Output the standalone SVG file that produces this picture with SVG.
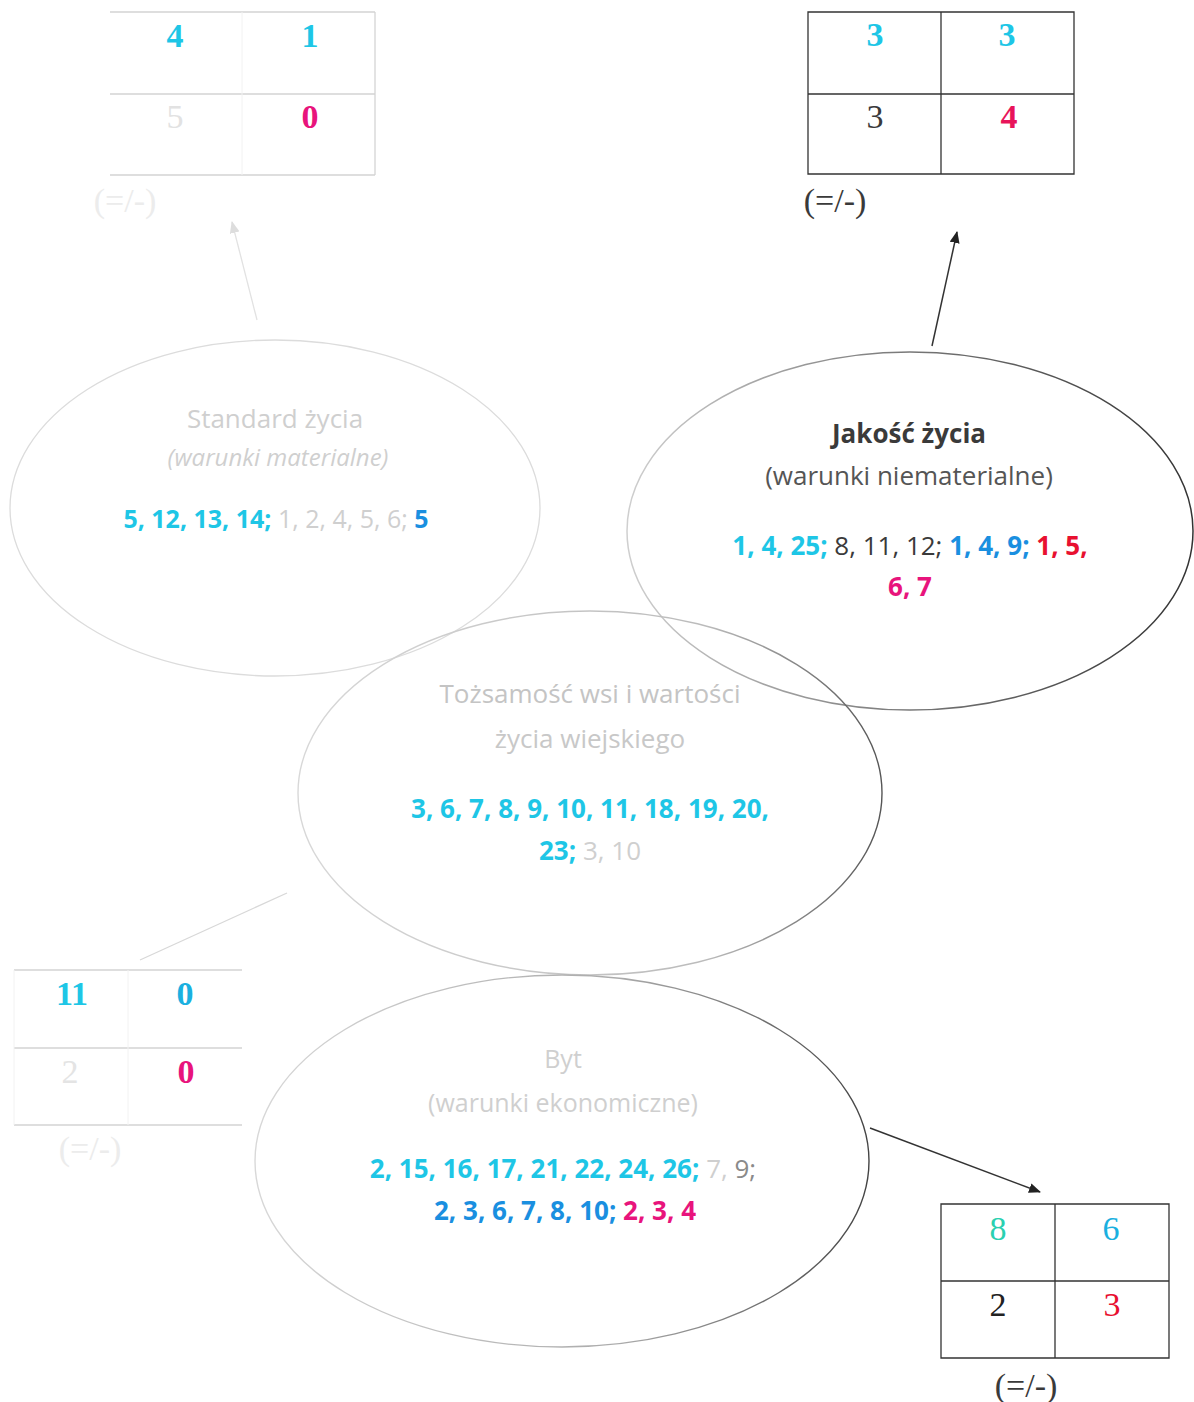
<svg xmlns="http://www.w3.org/2000/svg" width="1194" height="1402" viewBox="0 0 1194 1402">
<style>
.t{font-family:"Open Sans","Liberation Sans",sans-serif;text-anchor:middle}
.b{font-weight:bold}
.n{font-family:"Liberation Serif","Times New Roman",serif;font-size:34px;text-anchor:middle}
.nb{font-weight:bold}
.cy{fill:#1ec6e6}
.bl{fill:#1a8fe0}
.mg{fill:#e8147c}
.rd{fill:#e81030}
.dk{fill:#3a3a3a}
.fd{fill:#cfcfcf}
.gr{fill:#8a8a8a}
.tl{stroke:#333;stroke-width:1.3;fill:none}
.tf{stroke:#d4d4d4;stroke-width:1.3;fill:none}
</style>
<defs>
<linearGradient id="gJ" x1="0" y1="0" x2="1" y2="0"><stop offset="0" stop-color="#cfcfcf"/><stop offset="0.5" stop-color="#777"/><stop offset="1" stop-color="#333"/></linearGradient>
<linearGradient id="gT" x1="0" y1="0" x2="1" y2="0"><stop offset="0" stop-color="#d8d8d8"/><stop offset="0.7" stop-color="#bbb"/><stop offset="1" stop-color="#555"/></linearGradient>
<linearGradient id="gB" x1="0" y1="0" x2="1" y2="0"><stop offset="0" stop-color="#d8d8d8"/><stop offset="0.6" stop-color="#aaa"/><stop offset="1" stop-color="#444"/></linearGradient>
<marker id="ah" markerWidth="12" markerHeight="10" refX="11" refY="5" orient="auto" markerUnits="userSpaceOnUse"><path d="M0,0 L12,5 L0,10 z" fill="#222"/></marker>
<marker id="ahf" markerWidth="12" markerHeight="10" refX="11" refY="5" orient="auto" markerUnits="userSpaceOnUse"><path d="M0,0 L12,5 L0,10 z" fill="#ddd"/></marker>
</defs>
<rect width="1194" height="1402" fill="#fff"/>

<g id="connectors">
<line x1="932" y1="346" x2="957" y2="232" stroke="#333" stroke-width="1.5" marker-end="url(#ah)"/>
<line x1="870" y1="1128" x2="1040" y2="1192" stroke="#333" stroke-width="1.5" marker-end="url(#ah)"/>
<line x1="257" y1="320" x2="232" y2="222" stroke="#e2e2e2" stroke-width="1.3" marker-end="url(#ahf)"/>
<line x1="287" y1="893" x2="140" y2="960" stroke="#d8d8d8" stroke-width="1.3"/>
</g>

<g id="node-standard">
<ellipse cx="275" cy="508" rx="265" ry="168" fill="none" stroke="#dcdcdc" stroke-width="1.3"/>
<text class="t fd" x="275" y="428" font-size="26">Standard życia</text>
<text class="t fd" x="278" y="466" font-size="24" font-style="italic">(warunki materialne)</text>
<text class="t b" x="276" y="528" font-size="25"><tspan class="cy">5, 12, 13, 14;</tspan><tspan class="fd" font-weight="normal"> 1, 2, 4, 5, 6;</tspan><tspan class="bl"> 5</tspan></text>
</g>

<g id="node-jakosc">
<ellipse cx="910" cy="531" rx="283" ry="179" fill="none" stroke="url(#gJ)" stroke-width="1.5"/>
<text class="t b dk" x="909" y="443" font-size="26">Jakość życia</text>
<text class="t" x="909" y="485" font-size="26" style="fill:#555">(warunki niematerialne)</text>
<text class="t b" x="910" y="555" font-size="26"><tspan class="cy">1, 4, 25;</tspan><tspan class="dk" font-weight="normal"> 8, 11, 12;</tspan><tspan class="bl"> 1, 4, 9;</tspan><tspan class="rd"> 1, 5,</tspan></text>
<text class="t b mg" x="910" y="596" font-size="26">6, 7</text>
</g>

<g id="node-tozsamosc">
<ellipse cx="590" cy="793" rx="292" ry="182" fill="none" stroke="url(#gT)" stroke-width="1.4"/>
<text class="t" x="590" y="703" font-size="26" fill="#c4c4c4">Tożsamość wsi i wartości</text>
<text class="t" x="590" y="748" font-size="26" fill="#c8c8c8">życia wiejskiego</text>
<text class="t b cy" x="590" y="818" font-size="26">3, 6, 7, 8, 9, 10, 11, 18, 19, 20,</text>
<text class="t b" x="590" y="860" font-size="26"><tspan class="cy">23;</tspan><tspan class="fd" font-weight="normal"> 3, 10</tspan></text>
</g>

<g id="node-byt">
<ellipse cx="562" cy="1161" rx="307" ry="186" fill="none" stroke="url(#gB)" stroke-width="1.4"/>
<text class="t fd" x="563" y="1068" font-size="25">Byt</text>
<text class="t fd" x="563" y="1112" font-size="25">(warunki ekonomiczne)</text>
<text class="t b" x="563" y="1178" font-size="26"><tspan class="cy">2, 15, 16, 17, 21, 22, 24, 26;</tspan><tspan class="fd" font-weight="normal"> 7,</tspan><tspan class="gr" font-weight="normal"> 9;</tspan></text>
<text class="t b" x="565" y="1220" font-size="26"><tspan class="bl">2, 3, 6, 7, 8, 10;</tspan><tspan class="mg"> 2, 3, 4</tspan></text>
</g>

<g id="table-topleft">
<path class="tf" d="M110,12 H375 M110,94 H375 M110,175 H375 M375,12 V175"/>
<path d="M242,12 V175" stroke="#f2f2f2" stroke-width="1" fill="none"/>
<text class="n nb cy" x="175" y="47">4</text>
<text class="n nb cy" x="310" y="47">1</text>
<text class="n" x="175" y="128" fill="#e2e2e2">5</text>
<text class="n nb mg" x="310" y="128">0</text>
<text class="n" x="125" y="212" font-size="30" fill="#ececec">(=/-)</text>
</g>

<g id="table-topright">
<path class="tl" d="M808,12 H1074 V174 H808 Z M808,94 H1074 M941,12 V174"/>
<text class="n nb cy" x="875" y="46">3</text>
<text class="n nb cy" x="1007" y="46">3</text>
<text class="n dk" x="875" y="128">3</text>
<text class="n nb" x="1009" y="128" fill="#e8145a">4</text>
<text class="n dk" x="835" y="212">(=/-)</text>
</g>

<g id="table-bottomleft">
<path class="tf" d="M14,970 H242 M14,1048 H242 M14,1125 H242"/>
<path d="M14,970 V1125 M128,970 V1125" stroke="#f2f2f2" stroke-width="1" fill="none"/>
<text class="n nb cy" x="72" y="1005">11</text>
<text class="n nb" x="185" y="1005" fill="#1ab0e0">0</text>
<text class="n" x="70" y="1083" fill="#e4e4e4">2</text>
<text class="n nb mg" x="186" y="1083">0</text>
<text class="n" x="90" y="1160" font-size="26" fill="#ececec">(=/-)</text>
</g>

<g id="table-bottomright">
<path class="tl" d="M941,1204 H1169 V1358 H941 Z M941,1281 H1169 M1055,1204 V1358"/>
<text class="n" x="998" y="1240" fill="#2ad0b0">8</text>
<text class="n" x="1111" y="1240" fill="#1ab0e0">6</text>
<text class="n" x="998" y="1316" fill="#222">2</text>
<text class="n rd" x="1112" y="1316">3</text>
<text class="n dk" x="1026" y="1397">(=/-)</text>
</g>
</svg>
